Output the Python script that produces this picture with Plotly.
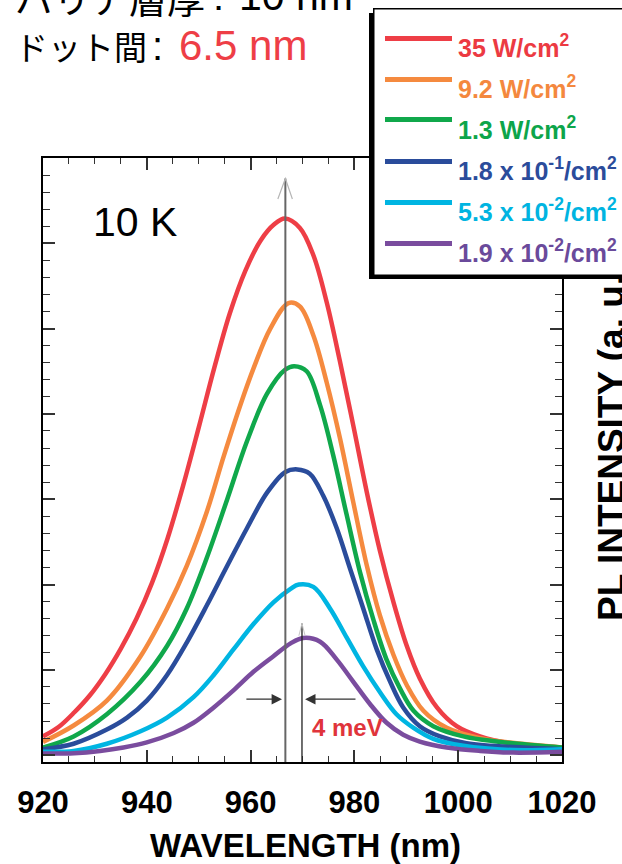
import plotly.graph_objects as go

# ---------------- data ----------------
wl_red = [920, 923, 926, 929, 932, 935, 938, 941, 944, 947, 950, 953, 956, 959, 962, 964.5, 966.6,
          969.5, 972.1, 974.7, 977.2, 979.8, 982.4, 984.9, 987.5, 990.1, 992.6, 995.9, 999.7,
          1004.2, 1010.6, 1020]
i_red = [1.1, 1.65, 2.5, 3.5, 4.75, 6.25, 8.0, 10.1, 12.7, 15.8, 19.2, 22.7, 25.9, 28.4, 30.2, 31.1, 31.45,
         30.9, 29.3, 26.5, 23.1, 19.3, 15.4, 12.0, 9.0, 6.4, 4.5, 2.8, 1.7,
         1.1, 0.67, 0.45]

wl_orange = [920, 925.9, 932.3, 938.8, 943.9, 947.7, 951.6, 954.8, 958.0, 960.6, 963.8, 967.3,
             969.5, 972.1, 974.7, 977.2, 979.8, 982.4, 984.9, 987.5, 990.1, 993.3, 997.8, 1004.2, 1020]
i_orange = [0.78, 1.74, 3.2, 5.8, 8.6, 11.1, 14.3, 17.5, 20.5, 22.7, 25.0, 26.5,
            26.3, 24.6, 21.8, 18.6, 14.8, 11.1, 8.2, 5.9, 4.1, 2.6, 1.6, 1.0, 0.45]

wl_green = [920, 925.9, 932.3, 938.8, 943.9, 947.7, 951.6, 955.5, 959.3, 963.2, 966.7, 968.4,
            970.8, 973.4, 975.9, 978.5, 981.1, 983.6, 986.2, 988.8, 991.4, 995.2, 1001.0, 1007.4, 1020]
i_green = [0.45, 1.1, 2.4, 4.3, 6.4, 8.6, 11.6, 15.0, 18.4, 21.2, 22.6, 22.8,
           22.5, 20.5, 17.6, 14.1, 10.7, 8.0, 5.6, 3.9, 2.6, 1.7, 1.1, 0.8, 0.45]

wl_blue = [920, 925.9, 932.3, 936.2, 940.0, 943.9, 947.7, 951.6, 955.5, 959.3, 963.2, 966.7,
           969.0, 971.4, 974.0, 976.6, 979.2, 981.7, 984.3, 986.9, 989.4, 992.6, 996.5, 1001.6, 1020]
i_blue = [0.35, 0.67, 1.5, 2.2, 3.2, 4.7, 6.6, 8.8, 11.1, 13.3, 15.4, 16.6,
          16.75, 16.5, 15.2, 13.3, 10.9, 8.6, 6.2, 4.3, 2.8, 1.7, 1.1, 0.7, 0.35]

wl_cyan = [920, 925.9, 932.3, 938.8, 943.9, 949.0, 952.9, 956.7, 960.6, 964.4, 967.7, 969.3,
           972.1, 975.3, 978.5, 981.7, 984.9, 988.1, 991.4, 995.2, 1001.0, 1010.6, 1020]
i_cyan = [0.2, 0.25, 0.67, 1.4, 2.2, 3.4, 4.7, 6.2, 7.7, 8.96, 9.75, 10.0,
          9.86, 8.6, 6.9, 5.2, 3.7, 2.4, 1.6, 0.96, 0.55, 0.3, 0.35]

wl_purple = [920, 926, 931, 935.5, 940.0, 945.2, 949.0, 952.9, 956.7, 960.6, 964.4, 967.7, 970.1,
             973.4, 976.6, 979.8, 983.0, 986.2, 989.4, 992.6, 997.8, 1004.2, 1010.6, 1020]
i_purple = [0.1, 0.12, 0.25, 0.45, 0.75, 1.3, 1.9, 2.8, 3.8, 4.9, 5.8, 6.55, 6.87,
            6.65, 5.6, 4.3, 3.0, 1.9, 1.2, 0.8, 0.45, 0.25, 0.15, 0.2]

legend_labels = ["35 W/cm<sup>2</sup>", "9.2 W/cm<sup>2</sup>", "1.3 W/cm<sup>2</sup>",
                 "1.8 x 10<sup>-1</sup>/cm<sup>2</sup>", "5.3 x 10<sup>-2</sup>/cm<sup>2</sup>",
                 "1.9 x 10<sup>-2</sup>/cm<sup>2</sup>"]
line_colors = ["#EE3E46", "#F58A3F", "#10A84B", "#2A4C9B", "#00B5E2", "#7A4C9E"]
text_colors = ["#EC3A42", "#F4883E", "#0DA54A", "#2B4C9B", "#00B4E1", "#6A4A9B"]

x_ticks = [920, 940, 960, 980, 1000, 1020]
peak_high = 966.7    # peak of the strongest excitation
peak_low = 969.9     # peak of the weakest excitation
arrow_level = 3.28

# ---------------- figure ----------------
W, H = 622, 864
L, R, T, B = 43, 562, 158, 762


def px(x):
    return (x - L) / (R - L)


def py(y):
    return (B - y) / (B - T)


fig = go.Figure()
series = [(wl_red, i_red), (wl_orange, i_orange), (wl_green, i_green),
          (wl_blue, i_blue), (wl_cyan, i_cyan), (wl_purple, i_purple)]
for (wl, it), c, name in zip(series, line_colors, legend_labels):
    fig.add_trace(go.Scatter(x=wl, y=it, mode="lines", name=name,
                             line=dict(color=c, width=4.5, shape="spline", smoothing=1.0),
                             showlegend=False, hoverinfo="skip"))

fig.update_layout(
    width=W, height=H, autosize=False,
    margin=dict(l=L, r=W - R, t=T, b=H - B, pad=0),
    paper_bgcolor="white", plot_bgcolor="white",
    showlegend=False,
    font=dict(family="Liberation Sans, Arial, sans-serif", color="black"),
)

fig.update_xaxes(
    range=[920, 1020], tickmode="array", tickvals=x_ticks, ticktext=[str(v) for v in x_ticks],
    ticks="inside", ticklen=12, tickwidth=1.5, tickcolor="#333",
    minor=dict(dtick=5, tick0=920, ticks="inside", ticklen=6, tickwidth=1.2, tickcolor="#333"),
    showline=True, linecolor="black", linewidth=1.5, mirror="ticks",
    showgrid=False, zeroline=False,
    tickfont=dict(family="Liberation Sans, Arial, sans-serif", size=31, color="black", weight="bold"),
    ticklabelstandoff=12,
)
fig.update_yaxes(
    range=[-0.4, 35], tick0=0, dtick=5,
    ticks="inside", ticklen=12, tickwidth=1.5, tickcolor="#333",
    minor=dict(dtick=1, ticks="inside", ticklen=7, tickwidth=1.2, tickcolor="#333"),
    showticklabels=False,
    showline=True, linecolor="black", linewidth=1.5, mirror="ticks",
    showgrid=False, zeroline=False,
)

# peak marker lines
fig.add_shape(type="line", xref="x", yref="y", x0=peak_high, x1=peak_high, y0=-0.4, y1=33.8,
              line=dict(color="#666", width=2), layer="above")
fig.add_shape(type="path", xref="x", yref="y",
              path=f"M {peak_high-1.45},32.6 L {peak_high},33.8 L {peak_high+1.35},32.6",
              line=dict(color="#b5b5b5", width=1.2), layer="above")
fig.add_shape(type="line", xref="x", yref="y", x0=peak_low, x1=peak_low, y0=-0.4, y1=7.72,
              line=dict(color="#222", width=1.3), layer="above")
fig.add_shape(type="path", xref="x", yref="y",
              path=f"M {peak_low-0.6},7.0 L {peak_low},7.72 L {peak_low+0.6},7.0",
              line=dict(color="#c8c8c8", width=1), layer="above")

ann = []
# horizontal arrows
ann.append(dict(x=966.05, y=arrow_level, ax=958.9, ay=arrow_level, xref="x", yref="y",
                axref="x", ayref="y", text="", showarrow=True, arrowhead=2, arrowsize=1.6,
                arrowwidth=1.3, arrowcolor="#333"))
ann.append(dict(x=970.5, y=arrow_level, ax=980.5, ay=arrow_level, xref="x", yref="y",
                axref="x", ayref="y", text="", showarrow=True, arrowhead=2, arrowsize=1.6,
                arrowwidth=1.3, arrowcolor="#333"))
ann.append(dict(x=px(347), y=py(727), xref="paper", yref="paper", text="4 meV", showarrow=False,
                xanchor="center", yanchor="middle",
                font=dict(size=24, color="#E0343B", weight="bold")))

# 10 K
ann.append(dict(x=px(135), y=py(222), xref="paper", yref="paper", text="10 K", showarrow=False,
                xanchor="center", yanchor="middle", font=dict(size=41, color="black")))

# x title
ann.append(dict(x=px(305), y=py(845), xref="paper", yref="paper", text="WAVELENGTH (nm)",
                showarrow=False, xanchor="center", yanchor="middle",
                font=dict(size=33, color="black", weight="bold")))

# right y title (drawn before the legend box so the box covers its end)
ann.append(dict(x=px(611), y=py(442), xref="paper", yref="paper", text="PL INTENSITY (a. u.)",
                showarrow=False, textangle=-90, xanchor="center", yanchor="middle",
                font=dict(size=37, color="black", weight="bold")))

# top-left captions
cjk = "Noto Sans CJK JP, sans-serif"
lat = "Liberation Sans, Arial, sans-serif"
ann.append(dict(x=px(13), y=py(-4), xref="paper", yref="paper", text="バリア層厚", showarrow=False,
                xanchor="left", yanchor="middle", font=dict(family=cjk, size=38, color="black")))
ann.append(dict(x=px(211), y=py(-4), xref="paper", yref="paper", text=":", showarrow=False,
                xanchor="left", yanchor="middle", font=dict(family=lat, size=40, color="black")))
ann.append(dict(x=px(237), y=py(-4), xref="paper", yref="paper", text="10 nm", showarrow=False,
                xanchor="left", yanchor="middle", font=dict(family=lat, size=41, color="black")))
ann.append(dict(x=px(13), y=py(46), xref="paper", yref="paper", text="ドット間", showarrow=False,
                xanchor="left", yanchor="middle", font=dict(family=cjk, size=33, color="black")))
ann.append(dict(x=px(150), y=py(46), xref="paper", yref="paper", text=":", showarrow=False,
                xanchor="left", yanchor="middle", font=dict(family=lat, size=40, color="black")))
ann.append(dict(x=px(177), y=py(46), xref="paper", yref="paper", text="6.5 nm", showarrow=False,
                xanchor="left", yanchor="middle", font=dict(family=lat, size=42, color="#EE3E46")))

# legend box with shadow
ann.append(dict(x=px(369), y=py(13), xref="paper", yref="paper", text=" ", showarrow=False,
                xanchor="left", yanchor="top", width=290, height=266, bgcolor="black",
                borderwidth=0, borderpad=0))
ann.append(dict(x=px(373), y=py(8), xref="paper", yref="paper", text=" ", showarrow=False,
                xanchor="left", yanchor="top", width=290, height=265, bgcolor="white",
                bordercolor="black", borderwidth=1.5, borderpad=0))
legend_y = [38, 79, 120, 161, 202, 243]
for ly, lab, lc, tc in zip(legend_y, legend_labels, line_colors, text_colors):
    ann.append(dict(x=px(385), y=py(ly - 2.5), xref="paper", yref="paper", text=" ",
                    showarrow=False, xanchor="left", yanchor="top", width=67, height=5,
                    bgcolor=lc, borderwidth=0, borderpad=0, font=dict(size=2)))
    ann.append(dict(x=px(456), y=py(ly + 8), xref="paper", yref="paper", text=lab,
                    showarrow=False, xanchor="left", yanchor="middle",
                    font=dict(size=25, color=tc, weight="bold")))

fig.update_layout(annotations=ann)
fig.write_html("out.html")
